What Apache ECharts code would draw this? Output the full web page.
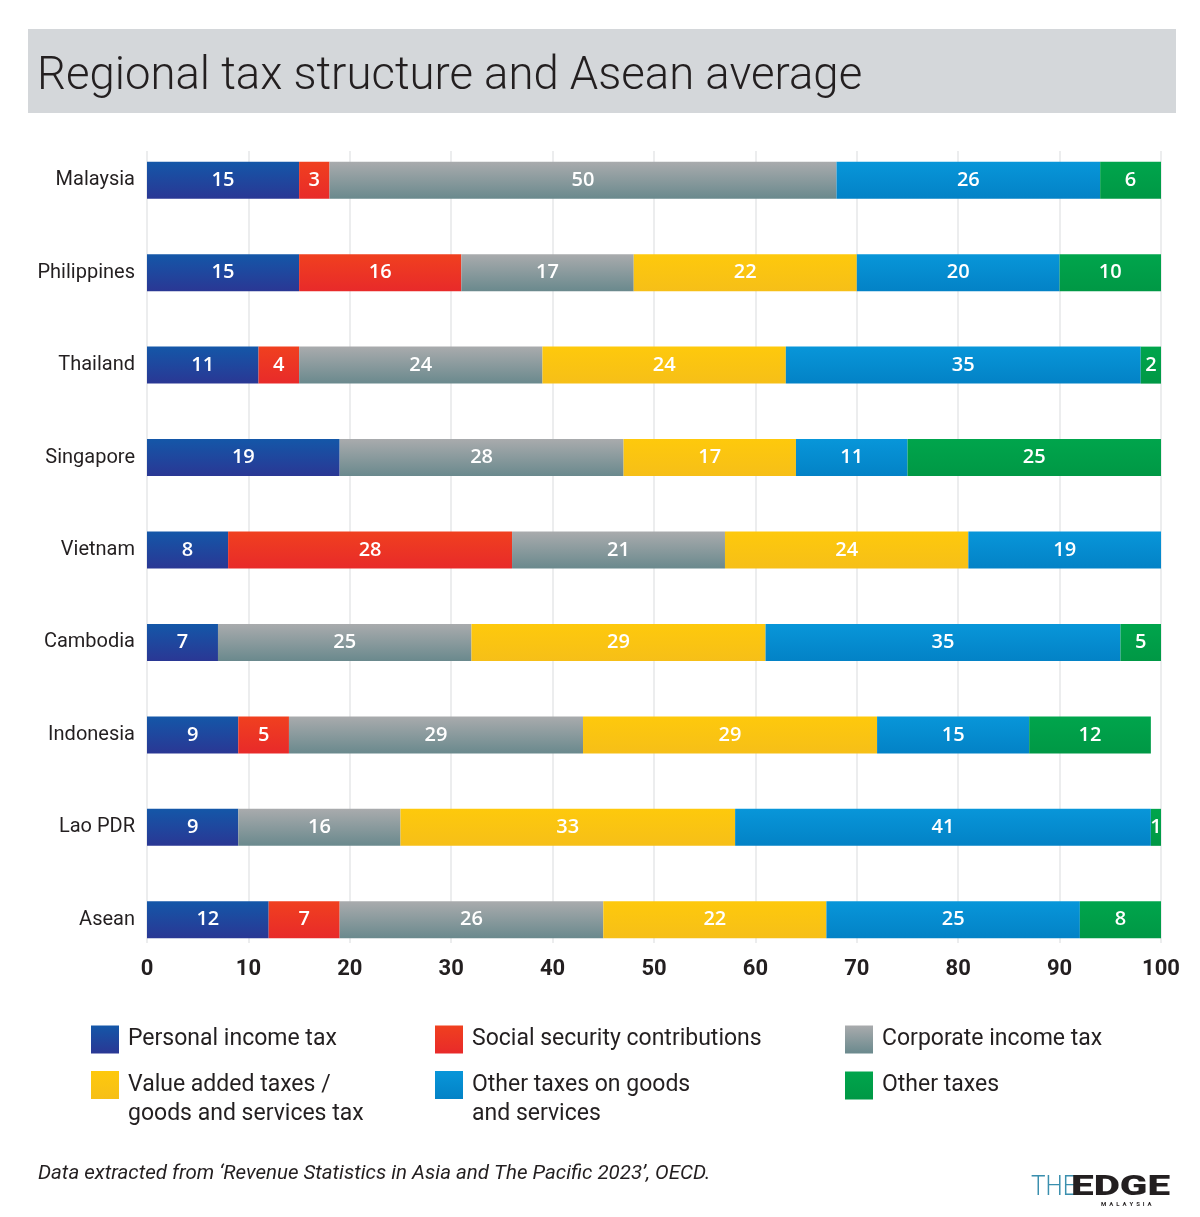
<!DOCTYPE html>
<html>
<head>
<meta charset="utf-8">
<script src="https://cdn.jsdelivr.net/npm/echarts@6/dist/echarts.min.js"></script>
<style>
  html, body { margin: 0; padding: 0; background: #fff; }
  #chart { width: 1200px; height: 1217px; }
</style>
</head>
<body>
<div id="chart"></div>
<script>
var countries = ['Malaysia', 'Philippines', 'Thailand', 'Singapore', 'Vietnam', 'Cambodia', 'Indonesia', 'Lao PDR', 'Asean'];

// share of total tax revenue, %
var personalIncome = [15, 15, 11, 19, 8, 7, 9, 9, 12];
var socialSecurity = [3, 16, 4, null, 28, null, 5, null, 7];
var corporateIncome = [50, 17, 24, 28, 21, 25, 29, 16, 26];
var valueAdded = [null, 22, 24, 17, 24, 29, 29, 33, 22];
var otherGoods = [26, 20, 35, 11, 19, 35, 15, 41, 25];
var otherTaxes = [6, 10, 2, 25, null, 5, 12, 1, 8];

var xTicks = [0, 10, 20, 30, 40, 50, 60, 70, 80, 90, 100];

var names = [
    'Personal income tax',
    'Social security contributions',
    'Corporate income tax',
    'Value added taxes /\ngoods and services tax',
    'Other taxes on goods\nand services',
    'Other taxes'
];

function grad(top, bottom) {
    return new echarts.graphic.LinearGradient(0, 0, 0, 1, [
        {offset: 0, color: top},
        {offset: 1, color: bottom}
    ]);
}

var colors = [
    grad('#1457a8', '#2a3794'),
    grad('#f0401f', '#e82a2a'),
    grad('#a9abad', '#6a898d'),
    grad('#fec90c', '#f6bf18'),
    grad('#0896d9', '#0382c6'),
    grad('#00a54c', '#009845')
];

var seriesData = [personalIncome, socialSecurity, corporateIncome, valueAdded, otherGoods, otherTaxes];

var series = seriesData.map(function (d, i) {
    return {
        name: names[i],
        type: 'bar',
        stack: 'total',
        barWidth: 37,
        xAxisIndex: 0,
        yAxisIndex: 0,
        itemStyle: {color: colors[i]},
        label: {
            show: true,
            position: 'inside',
            color: '#fff',
            fontFamily: 'Open Sans',
            fontWeight: 600,
            fontSize: 20
        },
        data: d
    };
});

// legend: one component per entry, three columns
var legendPos = [
    [91, 1025], [435, 1025], [845, 1025],
    [91, 1071], [435, 1071], [845, 1071]
];
var legends = names.map(function (n, i) {
    var twoLine = n.indexOf('\n') >= 0;
    return {
        left: legendPos[i][0],
        top: twoLine ? legendPos[i][1] - 29.5 : legendPos[i][1],
        padding: 0,
        itemWidth: 28,
        itemHeight: 28,
        icon: 'rect',
        selectedMode: false,
        // empty first line keeps the first text line level with the swatch
        formatter: function (name) {
            return twoLine ? '\n' + name : name;
        },
        textStyle: {
            fontFamily: 'Roboto',
            fontSize: 23,
            lineHeight: 29,
            color: '#231f20',
            padding: [0, 0, 0, 4]
        },
        data: [n]
    };
});

var chart = echarts.init(document.getElementById('chart'));
chart.setOption({
    backgroundColor: '#fff',
    animation: false,
    title: [
        {
            text: 'Regional tax structure and Asean average',
            left: 37,
            top: 50,
            padding: 0,
            textStyle: {
                fontFamily: 'Roboto',
                fontWeight: 300,
                fontSize: 45.5,
                lineHeight: 56,
                color: '#231f20'
            }
        },
        {
            text: 'Data extracted from \u2018Revenue Statistics in Asia and The Pacific 2023\u2019, OECD.',
            left: 38,
            top: 1161,
            padding: 0,
            textStyle: {
                fontFamily: 'Roboto',
                fontStyle: 'italic',
                fontWeight: 400,
                fontSize: 20.5,
                lineHeight: 26,
                color: '#231f20'
            }
        }
    ],
    legend: legends,
    graphic: [
        {
            type: 'rect',
            z: -10,
            shape: {x: 28, y: 29, width: 1148, height: 84},
            style: {fill: '#d4d7da'}
        },
        {
            type: 'text',
            x: 1031,
            y: 1188,
            scaleX: 0.9,
            style: {
                text: 'THE',
                fontFamily: 'Roboto',
                fontWeight: 300,
                fontSize: 27,
                fill: '#3a8fae',
                verticalAlign: 'middle'
            }
        },
        {
            type: 'text',
            x: 1071,
            y: 1188,
            scaleX: 1.5,
            style: {
                text: 'EDGE',
                fontFamily: 'Roboto',
                fontWeight: 900,
                fontSize: 27,
                fill: '#231f20',
                verticalAlign: 'middle'
            }
        },
        {
            type: 'text',
            x: 1101,
            y: 1204,
            style: {
                text: 'M  A  L  A  Y  S  I  A',
                fontFamily: 'Roboto',
                fontWeight: 700,
                fontSize: 6,
                fill: '#231f20',
                verticalAlign: 'middle'
            }
        }
    ],
    grid: [
        {left: 147, right: 39, top: 134, height: 832},
        {left: 147, right: 39, top: 151, height: 792}
    ],
    xAxis: [
        {
            type: 'value',
            gridIndex: 0,
            min: 0,
            max: 100,
            axisLine: {show: false},
            axisTick: {show: false},
            axisLabel: {show: false},
            splitLine: {show: false}
        },
        {
            type: 'value',
            gridIndex: 1,
            min: xTicks[0],
            max: xTicks[xTicks.length - 1],
            interval: 10,
            axisLine: {show: false},
            axisTick: {show: false},
            axisLabel: {
                margin: 15,
                fontFamily: 'Roboto',
                fontWeight: 700,
                fontSize: 22,
                color: '#231f20'
            },
            splitLine: {lineStyle: {color: '#e6e7e8', width: 1.5}}
        }
    ],
    yAxis: [
        {
            type: 'category',
            gridIndex: 0,
            inverse: true,
            data: countries,
            axisLine: {show: false},
            axisTick: {show: false},
            axisLabel: {
                margin: 12,
                padding: [4, 0, 0, 0],
                fontFamily: 'Roboto',
                fontSize: 20,
                color: '#231f20'
            }
        },
        {
            type: 'value',
            gridIndex: 1,
            show: false
        }
    ],
    series: series
});
</script>
</body>
</html>
